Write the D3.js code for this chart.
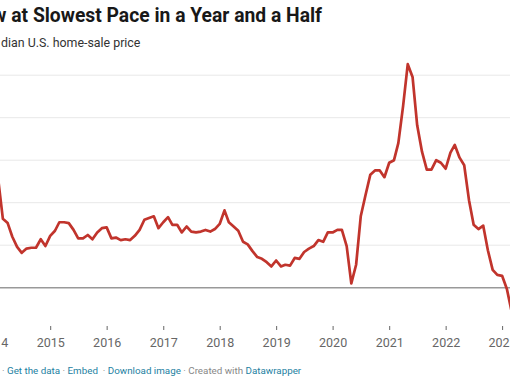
<!DOCTYPE html>
<html><head><meta charset="utf-8">
<script src="https://cdn.jsdelivr.net/npm/d3@7"></script>
<style>
html,body{margin:0;padding:0;background:#fff;overflow:hidden;}
svg{display:block;font-family:Roboto,"Noto Sans",sans-serif;}
</style></head>
<body>
<svg id="c" width="510" height="382"></svg>
<script>
const titleText = "w at Slowest Pace in a Year and a Half";
const subtitleText = "dian U.S. home-sale price";
const startMonth = "2014-01-01";
const yoyChange = [12.8,12.4,8.1,7.6,6.0,4.8,4.1,4.6,4.7,4.7,5.7,4.9,
  6.1,6.7,7.7,7.7,7.6,6.8,5.8,5.8,6.2,5.7,6.5,7.0,
  7.1,5.8,5.9,5.6,5.7,5.6,6.1,6.8,8.0,8.2,8.4,7.0,
  7.7,8.3,7.4,7.4,6.5,7.2,6.6,6.5,6.6,6.8,6.6,6.9,
  7.5,9.1,7.7,7.2,6.7,5.4,5.1,4.3,3.6,3.4,3.0,2.5,
  3.2,2.5,2.7,2.6,3.5,3.4,4.2,4.6,4.9,5.6,5.4,6.5,
  6.5,6.8,6.8,4.9,0.5,2.7,8.4,10.9,13.3,13.8,13.8,13.0,
  14.7,15.0,17.0,21.4,26.3,24.8,19.1,16.0,13.9,13.9,15.0,14.7,
  14.0,15.9,16.8,15.3,14.4,10.3,7.4,6.9,7.3,4.4,2.1,1.5,
  1.4,-0.15,-2.6];
const yearTicks = [2014,2015,2016,2017,2018,2019,2020,2021,2022,2023];
const gridValues = [5,10,15,20,25];
const footerParts = [
  {t:"· ", c:"#888"},{t:"Get the data", c:"#1d81a2"},{t:" · ", c:"#888"},
  {t:"Embed", c:"#1d81a2"},{t:"  · ", c:"#888"},{t:"Download image", c:"#1d81a2"},
  {t:" · Created with ", c:"#888"},{t:"Datawrapper", c:"#1d81a2"}];

const parse = d3.utcParse("%Y-%m-%d");
const t0 = parse(startMonth);
const dates = yoyChange.map((v,i)=>d3.utcMonth.offset(t0,i));
const data = dates.map((d,i)=>({date:d, v:yoyChange[i]}));

const svg = d3.select("#c");
const x = d3.scaleUtc().domain([parse("2015-01-01"), parse("2023-01-01")]).range([50.2, 502.1]);
const y = d3.scaleLinear().domain([0,25]).range([287.7, 75.2]);

// title
svg.append("text").attr("x",322).attr("y",22).attr("text-anchor","end")
  .attr("font-size",19.3).attr("font-weight",700).attr("fill","#181818").text(titleText);
svg.append("text").attr("x",1).attr("y",47)
  .attr("font-size",12.4).attr("fill","#333").text(subtitleText);

// grid
svg.append("g").selectAll("line").data(gridValues).join("line")
  .attr("x1",0).attr("x2",510).attr("y1",d=>y(d)).attr("y2",d=>y(d))
  .attr("stroke","#e8e8e8").attr("stroke-width",1);

// x axis
const xa = svg.append("g").attr("transform","translate(0,326)")
  .call(d3.axisBottom(x).tickValues(yearTicks.map(yr=>parse(yr+"-01-01")))
    .tickFormat(d3.utcFormat("%Y")).tickSize(4).tickSizeOuter(0));
xa.select(".domain").remove();
xa.selectAll(".tick line").attr("stroke","#666");
xa.selectAll(".tick text").attr("fill","#666").attr("font-size",12.5)
  .attr("font-family","Roboto,sans-serif").attr("dy","0").attr("y",20.5);

// zero line
svg.append("line").attr("x1",0).attr("x2",510).attr("y1",y(0)).attr("y2",y(0))
  .attr("stroke","#999").attr("stroke-width",1.6);

// line
svg.append("path").datum(data)
  .attr("d", d3.line().x(d=>x(d.date)).y(d=>y(d.v)))
  .attr("fill","none").attr("stroke","#c1342c").attr("stroke-width",2.7)
  .attr("stroke-linejoin","round");

// footer
const ft = svg.append("text").attr("x",2).attr("y",374).attr("font-size",9.8);
footerParts.forEach(p=>ft.append("tspan").attr("fill",p.c).attr("xml:space","preserve").style("white-space","pre").text(p.t));
</script>
</body></html>
